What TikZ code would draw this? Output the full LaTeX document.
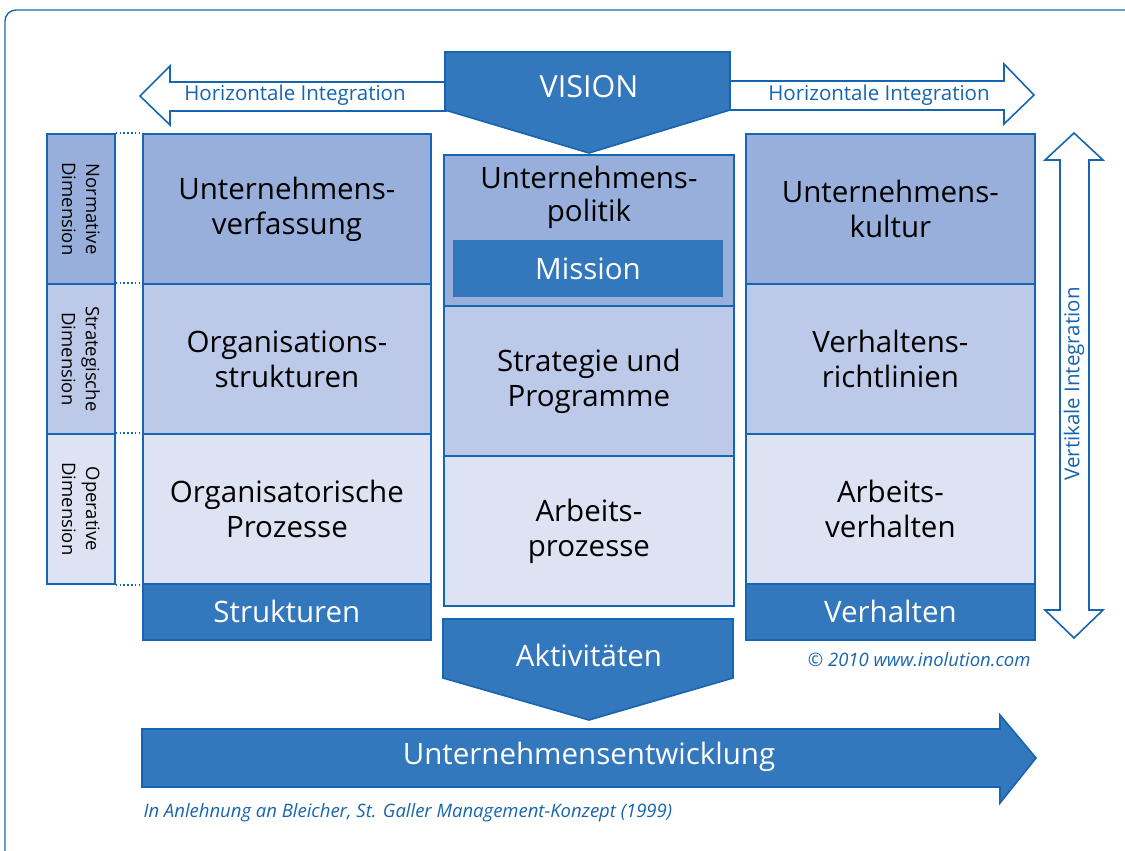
\documentclass[tikz,border=0pt]{standalone}
\usepackage{fontspec}
\setmainfont{Open Sans}
\usetikzlibrary{calc}

\definecolor{lineblue}{RGB}{22,101,176}
\definecolor{darkblue}{RGB}{51,119,189}
\definecolor{normfill}{RGB}{152,175,219}
\definecolor{stratfill}{RGB}{188,201,233}
\definecolor{opfill}{RGB}{221,227,243}

\tikzset{
  cell/.style={draw=lineblue, line width=1.8pt, inner sep=0pt, anchor=north west,
    align=center, font=\fontsize{29.5}{35}\selectfont},
  normcell/.style={cell, fill=normfill},
  stratcell/.style={cell, fill=stratfill},
  opcell/.style={cell, fill=opfill},
  darkcell/.style={cell, fill=darkblue, text=white},
  dimlabel/.style={rotate=-90, align=center, font=\fontsize{18.5}{24}\selectfont},
  whitelabel/.style={text=white, font=\fontsize{29.5}{35}\selectfont},
  bluelabel/.style={text=lineblue, font=\fontsize{20.5}{24}\selectfont},
  hollowarrow/.style={draw=lineblue, line width=1.6pt, fill=white, line join=miter},
  fullarrow/.style={draw=lineblue, line width=1.6pt, fill=darkblue, line join=miter},
  dimdots/.style={draw=lineblue, line width=1.6pt, dash pattern=on 1.6pt off 2.2pt},
  notetext/.style={text=lineblue, font=\fontsize{18.5}{22}\selectfont\itshape}
}

\begin{document}
\begin{tikzpicture}[x=1pt,y=-1pt]
\useasboundingbox (0,0) rectangle (1125,851);

% outer frame, open to the right and to the bottom
\draw[lineblue, line width=1.4pt, rounded corners=11pt] (5,880) -- (5,10) -- (1160,10);

% horizontal integration arrows
\draw[hollowarrow] (447,82) -- (170,82) -- (170,66) -- (140,96) -- (170,125) -- (170,111) -- (447,111);
\draw[hollowarrow] (728,81) -- (1004,81) -- (1004,64) -- (1034,95) -- (1004,124) -- (1004,110) -- (728,110);
\node[bluelabel] (hl) at (295,95) {Horizontale Integration};
\node[bluelabel] (hr) at (879,95) {Horizontale Integration};

% vision
\draw[fullarrow] (445,52) -- (730,52) -- (730,110) -- (589,153) -- (445,110) -- cycle;
\node[whitelabel, font=\fontsize{30.5}{35}\selectfont] (vision) at (589,87) {VISION};

% dimension column
\node[normcell, minimum width=68pt, minimum height=150pt] (dn) at (46,133) {};
\node[stratcell, minimum width=68pt, minimum height=150pt] (ds) at (46,283) {};
\node[opcell, minimum width=68pt, minimum height=150pt] (do) at (46,433) {};
\node[dimlabel] at (dn.center) {Normative\\Dimension};
\node[dimlabel] at (ds.center) {Strategische\\Dimension};
\node[dimlabel] at (do.center) {Operative\\Dimension};

% structures column
\node[normcell, minimum width=288pt, minimum height=150pt] (ln) at (142,133) {Unternehmens-\\verfassung};
\node[stratcell, minimum width=288pt, minimum height=150pt] (ls) at (142,283) {Organisations-\\strukturen};
\node[opcell, minimum width=288pt, minimum height=150pt] (lo) at (142,433) {Organisatorische\\Prozesse};
\node[darkcell, minimum width=288pt, minimum height=56pt] (lb) at (142,583) {Strukturen};

% dotted links between dimension labels and rows
\draw[dimdots] (dn.north east) -- (ln.north west);
\draw[dimdots] (ds.north east) -- (ls.north west);
\draw[dimdots] (do.north east) -- (lo.north west);
\draw[dimdots] (do.south east) -- (lo.south west);

% activities column
\node[normcell, minimum width=290pt, minimum height=151pt] (mn) at (443,154) {};
\node[font=\fontsize{29.5}{33}\selectfont, align=center] (mpol) at (589,197) {Unternehmens-\\politik};
\node[fill=darkblue, minimum width=270pt, minimum height=57pt, inner sep=0pt] (mission) at (588,268.5) {};
\node[whitelabel] at (mission.center) {Mission};
\node[stratcell, minimum width=290pt, minimum height=150pt] (ms) at (443,305) {Strategie und\\Programme};
\node[opcell, minimum width=290pt, minimum height=150pt] (mo) at (443,455) {Arbeits-\\prozesse};

\draw[fullarrow] (443,619) -- (733,619) -- (733,678) -- (589,720) -- (443,678) -- cycle;
\node[whitelabel] (akt) at (589,655) {Aktivitäten};

% behaviour column
\node[normcell, minimum width=289pt, minimum height=150pt] (rn) at (745,133) {Unternehmens-\\kultur};
\node[stratcell, minimum width=289pt, minimum height=150pt] (rs) at (745,283) {Verhaltens-\\richtlinien};
\node[opcell, minimum width=289pt, minimum height=150pt] (ro) at (745,433) {Arbeits-\\verhalten};
\node[darkcell, minimum width=289pt, minimum height=56pt] (rb) at (745,583) {Verhalten};

% vertical integration arrow
\draw[hollowarrow] (1060,160) -- (1045,160) -- (1074,133) -- (1103,160) -- (1089,160)
  -- (1089,610) -- (1103,610) -- (1074,638) -- (1045,610) -- (1060,610) -- cycle;
\node[bluelabel, rotate=90] (vi) at (1074,384) {Vertikale Integration};

\node[notetext, anchor=east] (copy) at (1034,660) {© 2010 www.inolution.com};

% development arrow
\draw[fullarrow] (142,729) -- (1000,729) -- (1000,715) -- (1036,758) -- (1000,803) -- (1000,787) -- (142,787) -- cycle;
\node[whitelabel] (dev) at (589,757) {Unternehmensentwicklung};

\node[notetext, anchor=west] (src) at (140,813) {In Anlehnung an Bleicher, St. Galler Management-Konzept (1999)};
\end{tikzpicture}
\end{document}
